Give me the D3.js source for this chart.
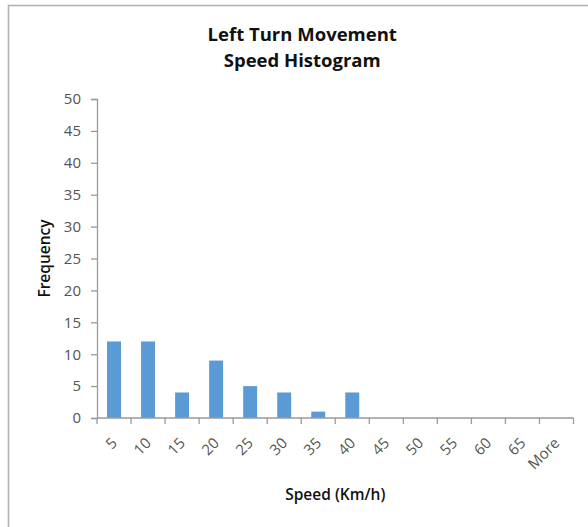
<!DOCTYPE html>
<html>
<head>
<meta charset="utf-8">
<script src="https://cdn.jsdelivr.net/npm/d3@7"></script>
<style>
  html, body { margin: 0; padding: 0; background: #ffffff; }
  svg { display: block; }
  text { font-family: "Open Sans", "DejaVu Sans", sans-serif; }
</style>
</head>
<body>
<svg id="chart" width="588" height="527"></svg>
<script>
// Speed bins (km/h) and how many left-turning vehicles fell into each
const categories = ["5", "10", "15", "20", "25", "30", "35", "40", "45", "50", "55", "60", "65", "More"];
const frequency = [12, 12, 4, 9, 5, 4, 1, 4, 0, 0, 0, 0, 0, 0];
const yTickValues = [0, 5, 10, 15, 20, 25, 30, 35, 40, 45, 50];
const titleLines = ["Left Turn Movement", "Speed Histogram"];
const xTitle = "Speed (Km/h)";
const yTitle = "Frequency";

const svg = d3.select("#chart");
const plot = { left: 97, right: 573.5, top: 99, bottom: 418 };

const axisColor = "#9a9a9a";
const tickTextColor = "#555555";
const titleColor = "#111111";
const barColor = "#5b9bd5";

// outer chart-area frame
svg.append("rect")
  .attr("x", 8.5).attr("y", 5.5)
  .attr("width", 620).attr("height", 620)
  .attr("fill", "none")
  .attr("stroke", "#b3b3b3")
  .attr("stroke-width", 1.6);

const x = d3.scaleBand()
  .domain(categories)
  .range([plot.left, plot.right])
  .paddingInner(0.59)
  .paddingOuter(0.295);

const y = d3.scaleLinear()
  .domain([0, 50])
  .range([plot.bottom, plot.top]);

// y axis
const yAxis = svg.append("g")
  .attr("transform", `translate(${plot.left},0)`)
  .call(d3.axisLeft(y).tickValues(yTickValues).tickSize(6).tickPadding(10));
yAxis.select(".domain").attr("stroke", axisColor).attr("stroke-width", 1.3);
yAxis.selectAll(".tick line").attr("stroke", axisColor).attr("stroke-width", 1.3);
yAxis.selectAll(".tick text")
  .attr("fill", tickTextColor)
  .style("font-size", "15px")
  .style("font-family", "'Open Sans', sans-serif");

// bars
svg.append("g").selectAll("rect")
  .data(categories.map((c, i) => ({ c, v: frequency[i] })))
  .join("rect")
  .attr("x", d => x(d.c))
  .attr("y", d => y(d.v))
  .attr("width", x.bandwidth())
  .attr("height", d => y(0) - y(d.v))
  .attr("fill", barColor);

// x axis: baseline plus tick marks on the bin boundaries
const step = x.step();
const x0 = x.range()[0];
const xAxis = svg.append("g");
xAxis.append("line")
  .attr("x1", x0).attr("x2", x.range()[1])
  .attr("y1", plot.bottom).attr("y2", plot.bottom)
  .attr("stroke", axisColor).attr("stroke-width", 1.3);
xAxis.selectAll("line.bound")
  .data(d3.range(categories.length + 1))
  .join("line")
  .attr("class", "bound")
  .attr("x1", i => x0 + i * step).attr("x2", i => x0 + i * step)
  .attr("y1", plot.bottom).attr("y2", plot.bottom + 6)
  .attr("stroke", axisColor).attr("stroke-width", 1.3);

// rotated category labels
xAxis.selectAll("text.cat")
  .data(categories)
  .join("text")
  .attr("class", "cat")
  .attr("transform", c => `translate(${x(c) + x.bandwidth() / 2 + 4},${plot.bottom + 26}) rotate(-45)`)
  .attr("text-anchor", "end")
  .attr("fill", tickTextColor)
  .style("font-size", "15px")
  .text(c => c);

// chart title
svg.append("g").selectAll("text")
  .data(titleLines)
  .join("text")
  .attr("x", (plot.left + plot.right) / 2 - 33)
  .attr("y", (d, i) => 41 + i * 26)
  .attr("text-anchor", "middle")
  .attr("fill", titleColor)
  .style("font-size", "18.5px")
  .style("font-weight", "bold")
  .text(d => d);

// axis titles
svg.append("text")
  .attr("x", (plot.left + plot.right) / 2)
  .attr("y", 500)
  .attr("text-anchor", "middle")
  .attr("fill", titleColor)
  .style("font-size", "15.5px")
  .style("font-weight", "600")
  .text(xTitle);

svg.append("text")
  .attr("transform", `translate(50,${(plot.top + plot.bottom) / 2}) rotate(-90)`)
  .attr("text-anchor", "middle")
  .attr("fill", titleColor)
  .style("font-size", "15.5px")
  .style("font-weight", "600")
  .text(yTitle);
</script>
</body>
</html>
